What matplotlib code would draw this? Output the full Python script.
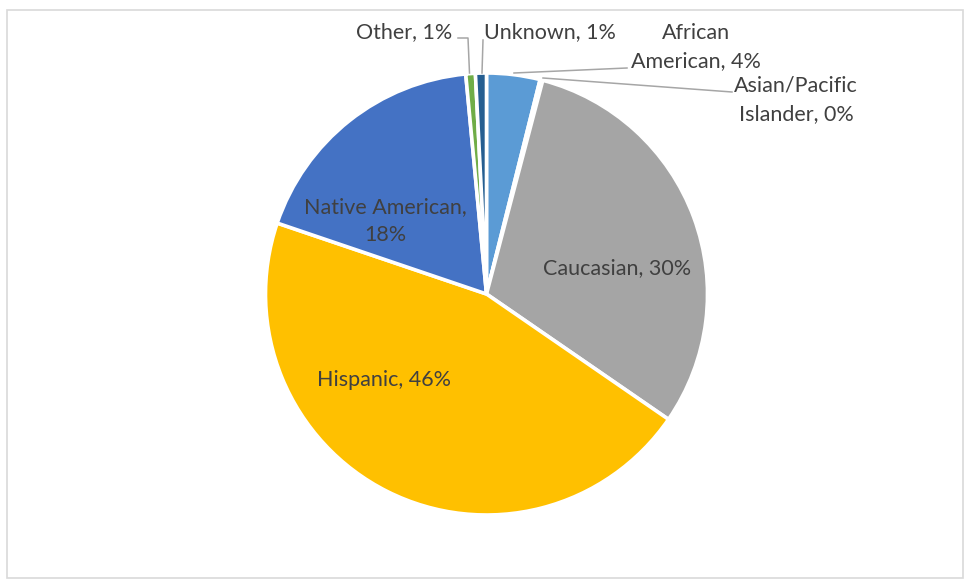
import matplotlib.pyplot as plt
from matplotlib.patches import Rectangle

# Slice data, clockwise from 12 o'clock
categories = ["African American", "Asian/Pacific Islander", "Caucasian",
              "Hispanic", "Native American", "Other", "Unknown"]
shares = [3.9, 0.2, 30.5, 45.6, 18.3, 0.7, 0.8]
colors = ["#5B9BD5", "#ED7D31", "#A5A5A5", "#FFC000", "#4472C4", "#70AD47", "#255E91"]

W, H = 964, 582
fig = plt.figure(figsize=(W / 100, H / 100), dpi=100)
ax = fig.add_axes([0, 0, 1, 1])

cx, cy, r = 486.5, H - 294, 221
ax.pie(shares, colors=colors, startangle=90, counterclock=False,
       center=(cx, cy), radius=r, frame=True,
       wedgeprops=dict(edgecolor="white", linewidth=2.6))
ax.set_xlim(0, W)
ax.set_ylim(0, H)
ax.set_aspect("equal")
ax.axis("off")

# chart area border
ax.add_patch(Rectangle((7, H - 578), 956, 568, fill=False, ec="#D9D9D9", lw=1.2))

txt = dict(color="#404040", fontsize=15.5, family="Lato", ha="center", va="center",
           linespacing=1.55)

def label(i, x, y, text=None):
    pct = f"{round(shares[i]):.0f}%"
    s = text if text else f"{categories[i]}, {pct}"
    ax.text(x, H - y, s.replace("{p}", pct), **txt)

# labels inside the slices
label(2, 617, 268)
label(3, 384, 380)
label(4, 385, 221, "Native American,\n{p}")

# outside labels with leader lines
lc = dict(color="#A6A6A6", lw=1.1)
ax.plot([458, 468, 469.5], [H - 38, H - 38, H - 73], **lc)
ax.plot([483, 482], [H - 40, H - 73], **lc)
ax.plot([514, 627], [H - 73, H - 68], **lc)
ax.plot([543, 732], [H - 78, H - 92], **lc)
label(5, 404, 32)
label(6, 550, 32)
label(0, 696, 47, "African\nAmerican, {p}")
label(1, 796, 100, "Asian/Pacific\nIslander, {p}")

fig.savefig("out.png", dpi=100)
